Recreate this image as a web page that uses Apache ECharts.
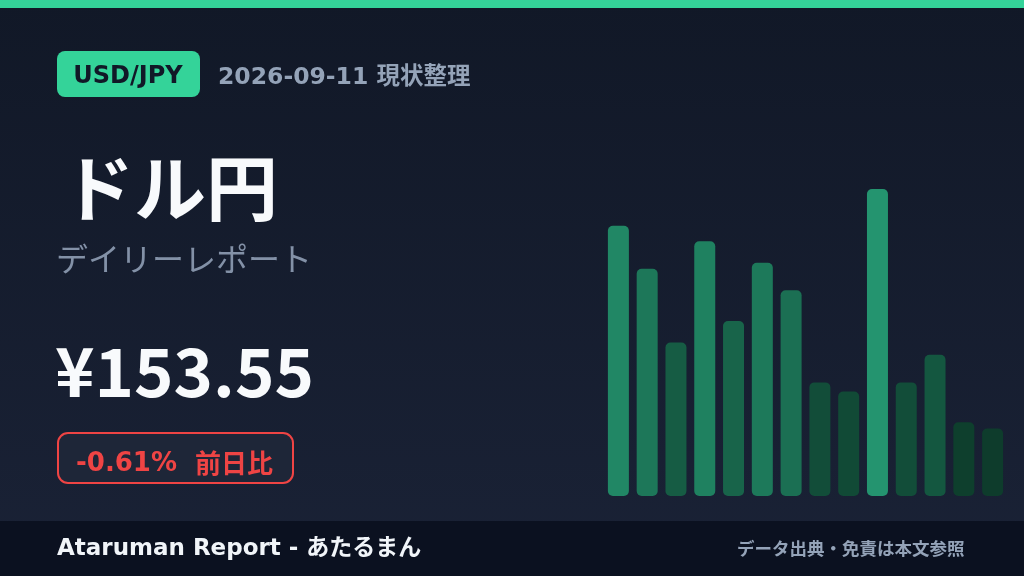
<!DOCTYPE html>
<html>
<head>
<meta charset="utf-8">
<script src="https://cdn.jsdelivr.net/npm/echarts@6/dist/echarts.min.js"></script>
<style>
  html, body { margin: 0; padding: 0; background: #111827; }
  #main { width: 1024px; height: 576px; }
</style>
</head>
<body>
<div id="main"></div>
<script>
'use strict';

// bar heights, relative (tallest = 100)
var days = ['1', '2', '3', '4', '5', '6', '7', '8', '9', '10', '11', '12', '13', '14'];
var barValues = [88, 74, 50, 83, 57, 76, 67, 37, 34, 100, 37, 46, 24, 22];

var pairLabel = 'USD/JPY';
var dateLabel = '2026-09-11 現状整理';
var titleText = 'ドル円';
var subTitle = 'デイリーレポート';
var priceText = '¥153.55';
var changeText = '-0.61%';
var changeNote = '前日比';
var footerLeft = 'Ataruman Report - あたるまん';
var footerRight = 'データ出典・免責は本文参照';

var CJK = '"Noto Sans CJK JP", "Noto Sans", sans-serif';
var WIDE = '"DejaVu Sans", "Noto Sans CJK JP", sans-serif';

function lerp(a, b, t){
    return Math.round(a + (b - a) * t);
}

// darker for short bars, brighter for tall ones
function barColor(v){
    var t = (v - 20) / 80;
    if (t < 0) t = 0;
    var lo = [13, 58, 42], hi = [36, 148, 111];
    return 'rgb(' + lerp(lo[0], hi[0], t) + ',' + lerp(lo[1], hi[1], t) + ',' + lerp(lo[2], hi[2], t) + ')';
}

function label(x, y, text, fill, font, align){
    return {
        type: 'text', x: x, y: y,
        style: {text: text, fill: fill, font: font, align: align || 'left', verticalAlign: 'middle'}
    };
}

var myChart = echarts.init(document.getElementById('main'), null, {renderer: 'canvas'});

var option = {
    animation: false,
    backgroundColor: {
        type: 'linear', x: 0, y: 0, x2: 0, y2: 1,
        colorStops: [
            {offset: 0, color: '#111827'},
            {offset: 1, color: '#1a2236'}
        ]
    },
    grid: {left: 604, right: 17, top: 189, bottom: 80},
    xAxis: {
        type: 'category',
        data: days,
        show: false
    },
    yAxis: {
        type: 'value',
        min: 0,
        max: 100,
        show: false
    },
    series: [{
        type: 'bar',
        data: barValues,
        barWidth: 21,
        itemStyle: {
            borderRadius: 5,
            color: function(p){ return barColor(p.value); }
        }
    }],
    graphic: [
        // top accent strip
        {type: 'rect', x: 0, y: 0, shape: {width: 1024, height: 8}, style: {fill: '#34d399'}},
        // footer band
        {type: 'rect', x: 0, y: 521, shape: {width: 1024, height: 55}, style: {fill: '#0b1120'}},
        // pair badge
        {type: 'rect', x: 57, y: 51, shape: {width: 143, height: 46, r: 8}, style: {fill: '#34d399'}},
        label(128, 77, pairLabel, '#111827', 'bold 24px ' + WIDE, 'center'),
        label(218, 78, dateLabel, '#94a3b8', 'bold 23.5px ' + WIDE),
        label(62, 188, titleText, '#f8fafc', 'bold 72px ' + CJK),
        label(56, 259, subTitle, '#8391a7', '32px ' + CJK),
        label(55, 372, priceText, '#f8fafc', 'bold 67px ' + CJK),
        // change box
        {type: 'rect', x: 58, y: 433, shape: {width: 235, height: 50, r: 10},
            style: {fill: '#1e2638', stroke: '#ef4444', lineWidth: 2}},
        label(76, 464, changeText, '#ef4444', 'bold 26px ' + WIDE),
        label(195, 463, changeNote, '#ef4444', 'bold 26px ' + CJK),
        label(57, 549, footerLeft, '#f1f5f9', 'bold 23px ' + WIDE),
        label(737, 548, footerRight, '#94a3b8', 'bold 17.5px ' + CJK)
    ]
};

myChart.setOption(option);
</script>
</body>
</html>
